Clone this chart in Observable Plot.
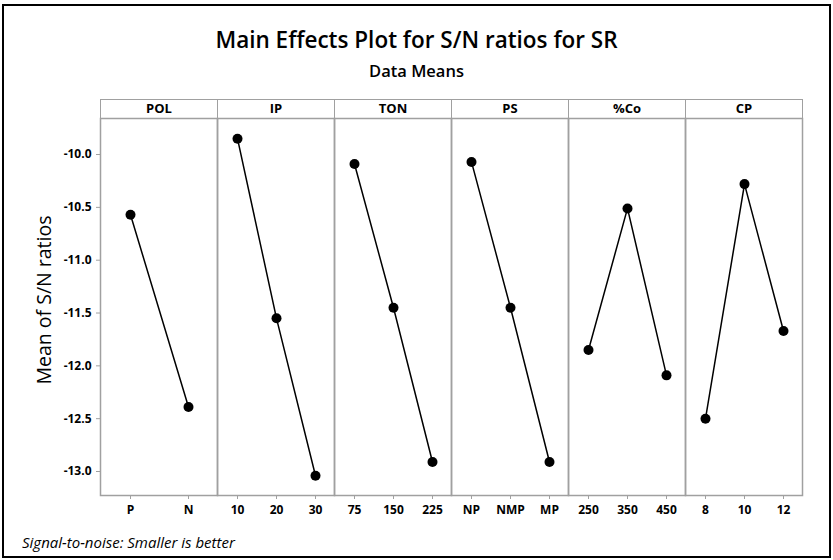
<!DOCTYPE html>
<html><head><meta charset="utf-8">
<script src="https://cdn.jsdelivr.net/npm/d3@7"></script>
<script src="https://cdn.jsdelivr.net/npm/@observablehq/plot@0.6"></script>
<style>
body{margin:0;background:#fff;}
#root{position:relative;width:833px;height:560px;overflow:hidden;font-family:"Open Sans","Noto Sans",sans-serif;background:#fff;}
#border{position:absolute;left:2px;top:4px;width:825px;height:550px;border:2px solid #000;}
#title{position:absolute;left:0;top:24px;width:833px;text-align:center;font-size:22.5px;font-weight:600;color:#000;}
#subtitle{position:absolute;left:0;top:59px;width:833px;text-align:center;font-size:16.5px;font-weight:600;color:#000;}
.hdr{position:absolute;top:99px;height:20px;box-sizing:border-box;border:1.5px solid #a0a0a0;text-align:center;font-size:13px;font-weight:700;line-height:17px;color:#000;}
.panel{position:absolute;top:118px;}
.panel svg{overflow:visible;}
#ylab{position:absolute;left:43px;top:300px;transform:translate(-50%,-50%) rotate(-90deg);font-size:19.5px;font-weight:500;white-space:nowrap;color:#000;}
#caption{position:absolute;left:22px;top:532px;font-size:15px;font-style:italic;color:#000;}
</style></head>
<body>
<div id="root">
  <div id="border"></div>
  <div id="title">Main Effects Plot for S/N ratios for SR</div>
  <div id="subtitle">Data Means</div>
  <div id="ylab">Mean of S/N ratios</div>
  <div id="caption">Signal-to-noise: Smaller is better</div>
</div>
<script>
const factors = ["POL", "IP", "TON", "PS", "%Co", "CP"];
const levels = [
  ["P", "N"],
  ["10", "20", "30"],
  ["75", "150", "225"],
  ["NP", "NMP", "MP"],
  ["250", "350", "450"],
  ["8", "10", "12"]
];
const means = [
  [-10.57, -12.39],
  [-9.85, -11.55, -13.04],
  [-10.09, -11.45, -12.91],
  [-10.07, -11.45, -12.91],
  [-11.85, -10.51, -12.09],
  [-12.50, -10.28, -11.67]
];
const yTicks = [-10.0, -10.5, -11.0, -11.5, -12.0, -12.5, -13.0];
const yDomain = [-13.227, -9.659];

const root = document.getElementById("root");
const panelW = 117, left0 = 100, plotH = 377;

factors.forEach((f, i) => {
  const data = levels[i].map((lv, j) => ({level: lv, mean: means[i][j]}));
  const first = i === 0;
  const ml = first ? left0 : 0;
  const chart = Plot.plot({
    width: ml + panelW + 1,
    height: plotH + 40,
    marginLeft: ml,
    marginRight: 1,
    marginTop: 0,
    marginBottom: 40,
    style: {fontFamily: '"Open Sans","Noto Sans",sans-serif', fontSize: "12px", fontWeight: "700", color: "#000", background: "transparent", overflow: "visible"},
    x: {type: "point", domain: levels[i], padding: 0.5, label: null, axis: null},
    y: {domain: yDomain, label: null, axis: null},
    marks: [
      Plot.frame({stroke: "#a0a0a0", strokeWidth: 1.5}),
      Plot.axisX({tickSize: 4, tickPadding: 6, stroke: "#a0a0a0", fill: "#000", label: null}),
      first ? Plot.axisY({ticks: yTicks, tickSize: 4, tickPadding: 5, stroke: "#a0a0a0", fill: "#000", tickFormat: d => d.toFixed(1), label: null}) : null,
      Plot.line(data, {x: "level", y: "mean", stroke: "#000", strokeWidth: 1.5}),
      Plot.dot(data, {x: "level", y: "mean", r: 5, fill: "#000", stroke: "none"})
    ]
  });
  const wrap = document.createElement("div");
  wrap.className = "panel";
  wrap.style.left = (first ? 0 : left0 + panelW * i) + "px";
  wrap.appendChild(chart);
  root.appendChild(wrap);

  const h = document.createElement("div");
  h.className = "hdr";
  h.style.left = (left0 + panelW * i) + "px";
  h.style.width = (panelW + 1) + "px";
  h.textContent = f;
  root.appendChild(h);
});
</script>
</body></html>
